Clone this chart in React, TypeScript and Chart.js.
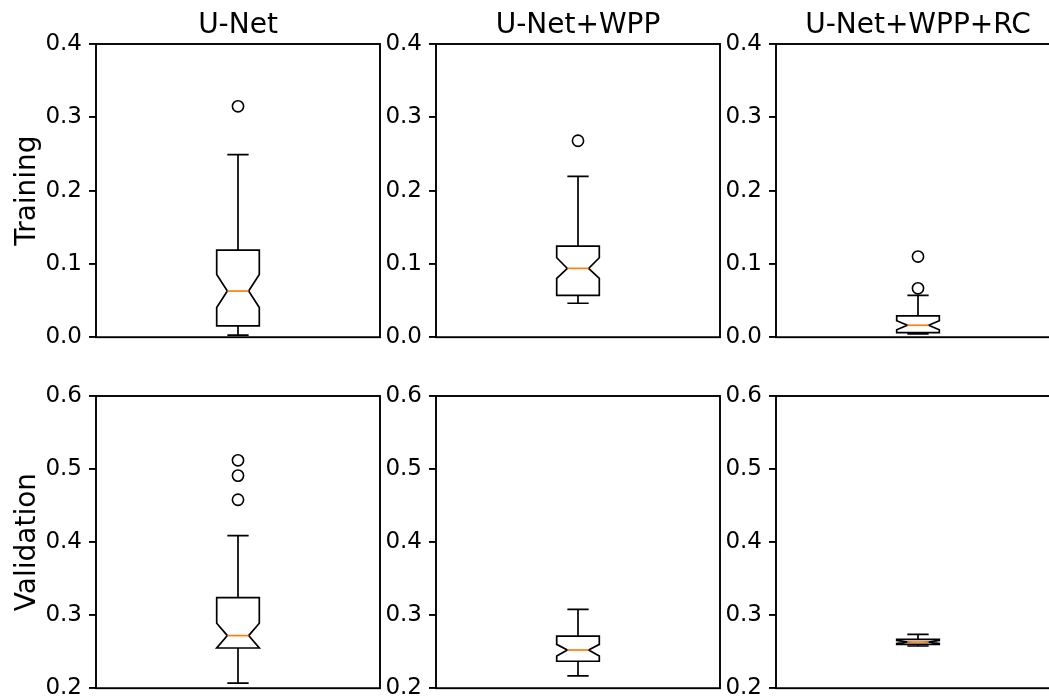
import React, { useEffect, useRef } from "react";
import { Chart, registerables } from "chart.js";

Chart.register(...registerables);

// ---------- data ----------
const columnTitles = ["U-Net", "U-Net+WPP", "U-Net+WPP+RC"];
const rowLabels = ["Training", "Validation"];

const trainAxisMin = 0.0;
const trainAxisMax = 0.4;
const valAxisMin = 0.2;
const valAxisMax = 0.6;
const tickStep = 0.1;

// Training statistics (one value per model)
const trainWhiskerLow = [0.0027, 0.0463, 0.0045];
const trainQ1 = [0.0154, 0.0571, 0.0063];
const trainNotchLow = [0.0404, 0.0803, 0.0102];
const trainMedian = [0.063, 0.0939, 0.0163];
const trainNotchHigh = [0.0857, 0.1084, 0.0225];
const trainQ3 = [0.1188, 0.1243, 0.029];
const trainWhiskerHigh = [0.249, 0.2195, 0.0571];
const trainOutliers = [[0.315], [0.268], [0.11, 0.0667]];

// Validation statistics
const valWhiskerLow = [0.207, 0.2168, 0.2578];
const valQ1 = [0.255, 0.2369, 0.26];
const valNotchLow = [0.255, 0.244, 0.2612];
const valMedian = [0.272, 0.2523, 0.2632];
const valNotchHigh = [0.289, 0.26, 0.2652];
const valQ3 = [0.324, 0.2714, 0.2669];
const valWhiskerHigh = [0.409, 0.308, 0.2737];
const valOutliers = [[0.512, 0.491, 0.458], [], []];

// ---------- layout ----------
const COL_LEFT = [96, 436, 776];
const PLOT_W = 284;
const ROW_TOP = [44, 396];
const PLOT_H = [294, 293];
const AXIS_W = 96;
const TOP_PAD = 44;
const RIGHT_PAD = 10;
const BOTTOM_PAD = 20;
const FONT = '"DejaVu Sans", "Liberation Sans", sans-serif';
const LINE_W = 1.7;
const SPINE_W = 1.9;

type Stats = {
  lo: number; q1: number; cilo: number; med: number; cihi: number; q3: number; hi: number;
};

const boxPlugin = {
  id: "notchedBox",
  beforeDatasetsDraw(chart: any, _args: any, opts: any) {
    const s: Stats = opts.stats;
    if (!s) return;
    const x = chart.scales.x;
    const y = chart.scales.y;
    const ctx = chart.ctx;
    const c = Math.round(x.getPixelForValue(1));
    const half = x.getPixelForValue(1 + 0.075) - x.getPixelForValue(1);
    const notch = half * 0.5;
    const cap = half * 0.5;
    const py = (v: number) => y.getPixelForValue(v);
    ctx.save();
    ctx.strokeStyle = "#000";
    ctx.lineWidth = LINE_W;
    ctx.lineJoin = "miter";
    // whiskers
    ctx.beginPath();
    ctx.moveTo(c, py(s.q1));
    ctx.lineTo(c, py(s.lo));
    ctx.moveTo(c, py(s.q3));
    ctx.lineTo(c, py(s.hi));
    // caps
    ctx.moveTo(c - cap, py(s.lo));
    ctx.lineTo(c + cap, py(s.lo));
    ctx.moveTo(c - cap, py(s.hi));
    ctx.lineTo(c + cap, py(s.hi));
    ctx.stroke();
    // notched box
    const L = c - half;
    const R = c + half;
    ctx.beginPath();
    ctx.moveTo(L, py(s.q1));
    ctx.lineTo(R, py(s.q1));
    ctx.lineTo(R, py(s.cilo));
    ctx.lineTo(c + notch, py(s.med));
    ctx.lineTo(R, py(s.cihi));
    ctx.lineTo(R, py(s.q3));
    ctx.lineTo(L, py(s.q3));
    ctx.lineTo(L, py(s.cihi));
    ctx.lineTo(c - notch, py(s.med));
    ctx.lineTo(L, py(s.cilo));
    ctx.closePath();
    ctx.stroke();
    // median
    ctx.strokeStyle = "#ff7f0e";
    ctx.lineWidth = LINE_W;
    ctx.beginPath();
    ctx.moveTo(c - notch, py(s.med));
    ctx.lineTo(c + notch, py(s.med));
    ctx.stroke();
    ctx.restore();
  },
  afterDraw(chart: any, _args: any, opts: any) {
    const ctx = chart.ctx;
    const a = chart.chartArea;
    ctx.save();
    ctx.strokeStyle = "#000";
    ctx.lineWidth = SPINE_W;
    ctx.strokeRect(a.left, a.top, a.right - a.left, a.bottom - a.top);
    ctx.fillStyle = "#000";
    if (opts.title) {
      ctx.font = `28px ${FONT}`;
      ctx.textAlign = "center";
      ctx.textBaseline = "alphabetic";
      ctx.fillText(opts.title, (a.left + a.right) / 2, a.top - 11);
    }
    if (opts.rowLabel) {
      ctx.font = `28px ${FONT}`;
      ctx.translate(35, (a.top + a.bottom) / 2);
      ctx.rotate(-Math.PI / 2);
      ctx.textAlign = "center";
      ctx.textBaseline = "alphabetic";
      ctx.fillText(opts.rowLabel, 0, 0);
    }
    ctx.restore();
  },
};

type Panel = {
  row: number; col: number; stats: Stats; outliers: number[]; min: number; max: number;
};

function buildPanels(): Panel[] {
  const panels: Panel[] = [];
  for (let col = 0; col < 3; col++) {
    panels.push({
      row: 0, col,
      stats: {
        lo: trainWhiskerLow[col], q1: trainQ1[col], cilo: trainNotchLow[col], med: trainMedian[col],
        cihi: trainNotchHigh[col], q3: trainQ3[col], hi: trainWhiskerHigh[col],
      },
      outliers: trainOutliers[col], min: trainAxisMin, max: trainAxisMax,
    });
  }
  for (let col = 0; col < 3; col++) {
    panels.push({
      row: 1, col,
      stats: {
        lo: valWhiskerLow[col], q1: valQ1[col], cilo: valNotchLow[col], med: valMedian[col],
        cihi: valNotchHigh[col], q3: valQ3[col], hi: valWhiskerHigh[col],
      },
      outliers: valOutliers[col], min: valAxisMin, max: valAxisMax,
    });
  }
  return panels;
}

const PANELS = buildPanels();

function canvasBox(p: Panel) {
  return {
    left: COL_LEFT[p.col] - AXIS_W,
    top: ROW_TOP[p.row] - TOP_PAD,
    width: AXIS_W + PLOT_W + RIGHT_PAD,
    height: TOP_PAD + PLOT_H[p.row] + BOTTOM_PAD,
  };
}

export default function App() {
  const refs = useRef<(HTMLCanvasElement | null)[]>([]);

  useEffect(() => {
    const charts: Chart[] = [];
    PANELS.forEach((p, i) => {
      const canvas = refs.current[i];
      if (!canvas) return;
      const chart = new Chart(canvas, {
        type: "scatter",
        data: {
          datasets: [
            {
              data: p.outliers.map((v) => ({ x: 1, y: v })),
              pointRadius: 5.6,
              pointHoverRadius: 5.6,
              pointBorderWidth: 1.6,
              borderColor: "#000",
              backgroundColor: "rgba(0,0,0,0)",
              showLine: false,
            },
          ],
        },
        plugins: [boxPlugin],
        options: {
          responsive: false,
          animation: false,
          events: [],
          layout: { padding: { top: TOP_PAD, right: RIGHT_PAD, bottom: BOTTOM_PAD, left: 0 } },
          plugins: {
            legend: { display: false },
            tooltip: { enabled: false },
            title: { display: false },
            notchedBox: {
              stats: p.stats,
              title: p.row === 0 ? columnTitles[p.col] : "",
              rowLabel: p.col === 0 ? rowLabels[p.row] : "",
            },
          } as any,
          scales: {
            x: { type: "linear", min: 0.5, max: 1.5, display: false },
            y: {
              type: "linear",
              min: p.min,
              max: p.max,
              afterFit: (scale: any) => {
                scale.width = AXIS_W;
              },
              border: { display: false },
              grid: {
                drawOnChartArea: false,
                drawTicks: true,
                tickLength: 7,
                tickWidth: SPINE_W,
                tickColor: "#000",
                color: "#000",
                lineWidth: SPINE_W,
              },
              ticks: {
                stepSize: tickStep,
                autoSkip: false,
                padding: 7,
                color: "#000",
                font: { family: FONT, size: 23 },
                callback: (v: any) => Number(v).toFixed(1),
              },
            },
          },
        },
      });
      charts.push(chart);
    });
    return () => charts.forEach((c) => c.destroy());
  }, []);

  return (
    <div
      style={{
        position: "fixed",
        left: 0,
        top: 0,
        width: 1049,
        height: 699,
        overflow: "hidden",
        background: "#fff",
      }}
    >
      {PANELS.map((p, i) => {
        const b = canvasBox(p);
        return (
          <canvas
            key={i}
            ref={(el) => {
              refs.current[i] = el;
            }}
            width={b.width}
            height={b.height}
            style={{ position: "absolute", left: b.left, top: b.top, width: b.width, height: b.height }}
          />
        );
      })}
    </div>
  );
}
